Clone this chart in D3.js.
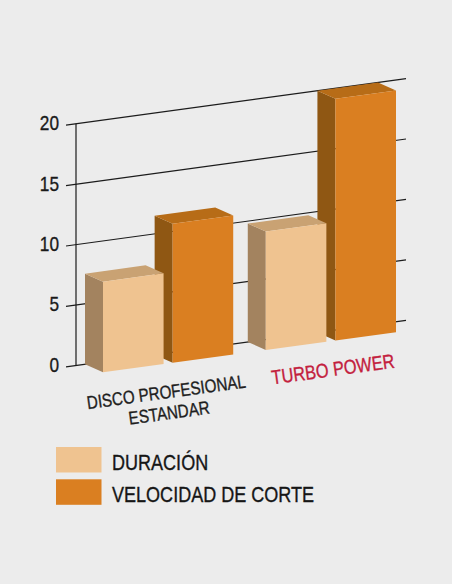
<!DOCTYPE html>
<html>
<head>
<meta charset="utf-8">
<script src="https://cdn.jsdelivr.net/npm/d3@7"></script>
<style>
  body { margin: 0; background: #ececec; }
  svg { display: block; }
  text { font-family: "Liberation Sans", Arial, sans-serif; stroke-width: 0.35px; }
  .grid { stroke: #1c1c1c; stroke-width: 1.2; fill: none; }
</style>
</head>
<body>
<svg id="chart" width="452" height="584"></svg>
<script>
// Data
const categories = ["DISCO PROFESIONAL ESTANDAR", "TURBO POWER"];
const categoryLines = [["DISCO PROFESIONAL", "ESTANDAR"], ["TURBO POWER"]];
const series = ["DURACIÓN", "VELOCIDAD DE CORTE"];
const duracion = [7.5, 9.8];
const velocidad = [11.5, 20];
const yTicks = [0, 5, 10, 15, 20];

// Styles
const faceColors = {
  "DURACIÓN": { front: "#efc390", side: "#a3835f", top: "#c9a273" },
  "VELOCIDAD DE CORTE": { front: "#da7f21", side: "#8f5713", top: "#b76c17" }
};
const labelColors = ["#1e1e1e", "#c3203d"];
const narrow = 0.82; // condensed look: Liberation Sans squeezed horizontally

const svg = d3.select("svg#chart");

// oblique "3d" frame: back wall origin, slope along the category axis, depth offset
const origin = { x: 76, y: 365.5 };
const slope = -0.137;
const depth = { dx: 18, dy: 8 };
const wallWidth = 330;

const x0 = d3.scaleBand().domain(categories).range([9, 302]).paddingInner(0.2);
const x1 = d3.scaleBand().domain(series).range([0, x0.bandwidth()]).paddingInner(0.13);
const y = d3.scaleLinear().domain([0, 20]).range([0, 241.7]);

// u: along categories, v: value, d: 0 = front, 1 = back wall
function project(u, v, d) {
  return [
    origin.x + u + depth.dx * (1 - d),
    origin.y + slope * u - y(v) + depth.dy * (1 - d)
  ];
}
const poly = pts => "M" + pts.map(p => p.join(",")).join("L") + "Z";

// Gridlines on the back wall (with the small tick stub left of the axis)
const grid = svg.append("g");
yTicks.forEach(t => {
  const a = project(-10, t, 1), b = project(wallWidth, t, 1);
  grid.append("line").attr("class", "grid")
    .attr("x1", a[0]).attr("y1", a[1]).attr("x2", b[0]).attr("y2", b[1]);
  grid.append("text")
    .attr("transform", `translate(59,${a[1] + 5}) scale(${narrow},1)`)
    .attr("text-anchor", "end")
    .style("font-size", "21px")
    .attr("fill", "#1a1a1a").attr("stroke", "#1a1a1a")
    .text(t);
});
const axTop = project(0, 20, 1), axBot = project(0, 0, 1);
grid.append("line").attr("class", "grid")
  .attr("x1", axTop[0]).attr("y1", axTop[1]).attr("x2", axBot[0]).attr("y2", axBot[1]);

// Build bars, then draw right to left so left neighbours cover the side faces
let bars = [];
categories.forEach((c, i) => {
  bars.push({ cat: c, s: series[0], value: duracion[i] });
  bars.push({ cat: c, s: series[1], value: velocidad[i] });
});
bars.forEach(b => {
  b.u0 = x0(b.cat) + x1(b.s);
  b.u1 = b.u0 + x1.bandwidth();
});
bars.sort((a, b) => b.u0 - a.u0);

const barG = svg.append("g").selectAll("g.bar").data(bars).join("g").attr("class", "bar");

barG.append("path")
  .attr("fill", d => faceColors[d.s].side)
  .attr("d", d => poly([project(d.u0, 0, 0), project(d.u0, d.value, 0), project(d.u0, d.value, 1), project(d.u0, 0, 1)]));
barG.append("path")
  .attr("fill", d => faceColors[d.s].top)
  .attr("d", d => poly([project(d.u0, d.value, 0), project(d.u1, d.value, 0), project(d.u1, d.value, 1), project(d.u0, d.value, 1)]));
barG.append("path")
  .attr("fill", d => faceColors[d.s].front)
  .attr("d", d => poly([project(d.u0, 0, 0), project(d.u1, 0, 0), project(d.u1, d.value, 0), project(d.u0, d.value, 0)]));

// Category labels, tilted along the floor
const angle = Math.atan(slope) * 180 / Math.PI;
const labelShift = [-1, 3];
categories.forEach((c, i) => {
  const uc = x0(c) + x0.bandwidth() / 2;
  const p = project(uc, 0, 0);
  const t = svg.append("text")
    .attr("transform", `translate(${p[0] + labelShift[i]},${p[1] + 35}) rotate(${angle}) scale(${narrow},1)`)
    .attr("text-anchor", "middle")
    .style("font-size", i === 0 ? "18.5px" : "20px")
    .attr("fill", labelColors[i]).attr("stroke", labelColors[i]);
  categoryLines[i].forEach((line, j) => {
    t.append("tspan").attr("x", 0).attr("dy", j === 0 ? 0 : 21).text(line);
  });
});

// Legend
const legend = svg.append("g").attr("transform", "translate(56,447)");
series.forEach((s, i) => {
  const row = legend.append("g").attr("transform", `translate(0,${i * 32.3})`);
  row.append("rect").attr("width", 45.5).attr("height", 25.5).attr("fill", faceColors[s].front);
  row.append("text")
    .attr("transform", `translate(56,23) scale(${narrow},1)`)
    .style("font-size", "22px")
    .attr("fill", "#161616").attr("stroke", "#161616")
    .text(s);
});
</script>
</body>
</html>
